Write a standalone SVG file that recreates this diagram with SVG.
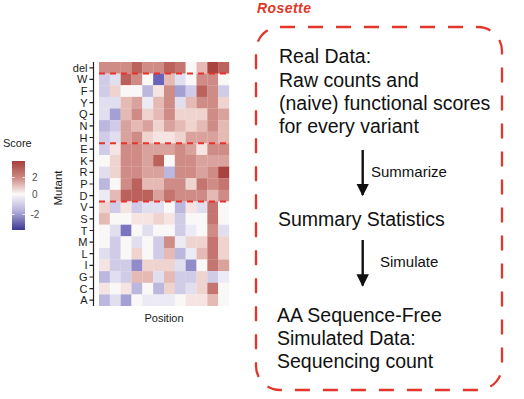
<svg xmlns="http://www.w3.org/2000/svg" width="524" height="399" viewBox="0 0 524 399">
<style>
text{font-family:"Liberation Sans",Arial,Helvetica,sans-serif}
.lab{font-size:11px;fill:#1a1a1a;text-anchor:end}
.box{font-size:19.5px;fill:#111}
.small{font-size:15px;fill:#111}
.r4{fill:#a8433f}.r3{fill:#bb625d}.r25{fill:#c57570}.r2{fill:#cf8c86}.r15{fill:#daa29c}.r1{fill:#e5bab5}.r05{fill:#efd3cf}.r03{fill:#f5e4e2}.w{fill:#faf7f7}
.b03{fill:#ecebf5}.b05{fill:#e1def0}.b1{fill:#d0cce8}.b15{fill:#bcb7df}.b2{fill:#a5a0d4}.b25{fill:#918bca}.b3{fill:#7c74c0}.b4{fill:#6a63b9}
.sep{stroke:#e8332a;stroke-width:2;stroke-dasharray:6 5;fill:none}
</style>
<defs>
<linearGradient id="sg" x1="0" y1="0" x2="0" y2="1">
<stop offset="0" stop-color="#a23f3b"/>
<stop offset="0.25" stop-color="#cf8c86"/>
<stop offset="0.48" stop-color="#fbf8f8"/>
<stop offset="0.72" stop-color="#b7b2dc"/>
<stop offset="1" stop-color="#3d3894"/>
</linearGradient>
<marker id="ah" viewBox="0 0 10 10" refX="9" refY="5" markerWidth="5.2" markerHeight="5.2" orient="auto" markerUnits="strokeWidth">
<path d="M0,0 L10,5 L0,10 z" fill="#111"/>
</marker>
</defs>

<g id="heatmap">
<g transform="translate(0,62)"><rect x="99" width="11" height="11.8" class="r2"/><rect x="109.83" width="11" height="11.8" class="r2"/><rect x="120.67" width="11" height="11.8" class="r2"/><rect x="131.5" width="11" height="11.8" class="r3"/><rect x="142.33" width="11" height="11.8" class="r2"/><rect x="153.17" width="11" height="11.8" class="r2"/><rect x="164" width="11" height="11.8" class="r3"/><rect x="174.83" width="11" height="11.8" class="r25"/><rect x="185.67" width="11" height="11.8" class="w"/><rect x="196.5" width="11" height="11.8" class="r1"/><rect x="207.33" width="11" height="11.8" class="r4"/><rect x="218.17" width="11" height="11.8" class="r3"/></g>
<g transform="translate(0,73.62)"><rect x="99" width="11" height="11.8" class="b1"/><rect x="109.83" width="11" height="11.8" class="b05"/><rect x="120.67" width="11" height="11.8" class="r3"/><rect x="131.5" width="11" height="11.8" class="r2"/><rect x="142.33" width="11" height="11.8" class="w"/><rect x="153.17" width="11" height="11.8" class="b4"/><rect x="164" width="11" height="11.8" class="r1"/><rect x="174.83" width="11" height="11.8" class="b05"/><rect x="185.67" width="11" height="11.8" class="w"/><rect x="196.5" width="11" height="11.8" class="r2"/><rect x="207.33" width="11" height="11.8" class="r2"/><rect x="218.17" width="11" height="11.8" class="w"/></g>
<g transform="translate(0,85.24)"><rect x="99" width="11" height="11.8" class="b1"/><rect x="109.83" width="11" height="11.8" class="r05"/><rect x="120.67" width="11" height="11.8" class="w"/><rect x="131.5" width="11" height="11.8" class="w"/><rect x="142.33" width="11" height="11.8" class="b15"/><rect x="153.17" width="11" height="11.8" class="r03"/><rect x="164" width="11" height="11.8" class="r2"/><rect x="174.83" width="11" height="11.8" class="b2"/><rect x="185.67" width="11" height="11.8" class="b1"/><rect x="196.5" width="11" height="11.8" class="r3"/><rect x="207.33" width="11" height="11.8" class="r2"/><rect x="218.17" width="11" height="11.8" class="b1"/></g>
<g transform="translate(0,96.86)"><rect x="99" width="11" height="11.8" class="b05"/><rect x="109.83" width="11" height="11.8" class="b05"/><rect x="120.67" width="11" height="11.8" class="r1"/><rect x="131.5" width="11" height="11.8" class="r15"/><rect x="142.33" width="11" height="11.8" class="b03"/><rect x="153.17" width="11" height="11.8" class="r1"/><rect x="164" width="11" height="11.8" class="r2"/><rect x="174.83" width="11" height="11.8" class="b05"/><rect x="185.67" width="11" height="11.8" class="r1"/><rect x="196.5" width="11" height="11.8" class="r2"/><rect x="207.33" width="11" height="11.8" class="r2"/><rect x="218.17" width="11" height="11.8" class="r05"/></g>
<g transform="translate(0,108.48)"><rect x="99" width="11" height="11.8" class="b05"/><rect x="109.83" width="11" height="11.8" class="b2"/><rect x="120.67" width="11" height="11.8" class="r1"/><rect x="131.5" width="11" height="11.8" class="r2"/><rect x="142.33" width="11" height="11.8" class="r05"/><rect x="153.17" width="11" height="11.8" class="r1"/><rect x="164" width="11" height="11.8" class="r2"/><rect x="174.83" width="11" height="11.8" class="r05"/><rect x="185.67" width="11" height="11.8" class="r05"/><rect x="196.5" width="11" height="11.8" class="r05"/><rect x="207.33" width="11" height="11.8" class="r2"/><rect x="218.17" width="11" height="11.8" class="r15"/></g>
<g transform="translate(0,120.1)"><rect x="99" width="11" height="11.8" class="b15"/><rect x="109.83" width="11" height="11.8" class="b1"/><rect x="120.67" width="11" height="11.8" class="r15"/><rect x="131.5" width="11" height="11.8" class="r1"/><rect x="142.33" width="11" height="11.8" class="r15"/><rect x="153.17" width="11" height="11.8" class="r05"/><rect x="164" width="11" height="11.8" class="r15"/><rect x="174.83" width="11" height="11.8" class="r1"/><rect x="185.67" width="11" height="11.8" class="r05"/><rect x="196.5" width="11" height="11.8" class="r1"/><rect x="207.33" width="11" height="11.8" class="r2"/><rect x="218.17" width="11" height="11.8" class="r1"/></g>
<g transform="translate(0,131.72)"><rect x="99" width="11" height="11.8" class="b1"/><rect x="109.83" width="11" height="11.8" class="b05"/><rect x="120.67" width="11" height="11.8" class="r15"/><rect x="131.5" width="11" height="11.8" class="r2"/><rect x="142.33" width="11" height="11.8" class="r05"/><rect x="153.17" width="11" height="11.8" class="r03"/><rect x="164" width="11" height="11.8" class="r03"/><rect x="174.83" width="11" height="11.8" class="r05"/><rect x="185.67" width="11" height="11.8" class="r15"/><rect x="196.5" width="11" height="11.8" class="r15"/><rect x="207.33" width="11" height="11.8" class="r15"/><rect x="218.17" width="11" height="11.8" class="r1"/></g>
<g transform="translate(0,143.34)"><rect x="99" width="11" height="11.8" class="b1"/><rect x="109.83" width="11" height="11.8" class="r03"/><rect x="120.67" width="11" height="11.8" class="r2"/><rect x="131.5" width="11" height="11.8" class="r2"/><rect x="142.33" width="11" height="11.8" class="r15"/><rect x="153.17" width="11" height="11.8" class="r15"/><rect x="164" width="11" height="11.8" class="r15"/><rect x="174.83" width="11" height="11.8" class="r2"/><rect x="185.67" width="11" height="11.8" class="r15"/><rect x="196.5" width="11" height="11.8" class="r03"/><rect x="207.33" width="11" height="11.8" class="r2"/><rect x="218.17" width="11" height="11.8" class="r2"/></g>
<g transform="translate(0,154.96)"><rect x="99" width="11" height="11.8" class="w"/><rect x="109.83" width="11" height="11.8" class="r05"/><rect x="120.67" width="11" height="11.8" class="r2"/><rect x="131.5" width="11" height="11.8" class="r2"/><rect x="142.33" width="11" height="11.8" class="r15"/><rect x="153.17" width="11" height="11.8" class="r3"/><rect x="164" width="11" height="11.8" class="w"/><rect x="174.83" width="11" height="11.8" class="r2"/><rect x="185.67" width="11" height="11.8" class="r2"/><rect x="196.5" width="11" height="11.8" class="r15"/><rect x="207.33" width="11" height="11.8" class="r15"/><rect x="218.17" width="11" height="11.8" class="r15"/></g>
<g transform="translate(0,166.58)"><rect x="99" width="11" height="11.8" class="b05"/><rect x="109.83" width="11" height="11.8" class="r05"/><rect x="120.67" width="11" height="11.8" class="r2"/><rect x="131.5" width="11" height="11.8" class="r2"/><rect x="142.33" width="11" height="11.8" class="r15"/><rect x="153.17" width="11" height="11.8" class="r15"/><rect x="164" width="11" height="11.8" class="b15"/><rect x="174.83" width="11" height="11.8" class="r2"/><rect x="185.67" width="11" height="11.8" class="r2"/><rect x="196.5" width="11" height="11.8" class="r15"/><rect x="207.33" width="11" height="11.8" class="r2"/><rect x="218.17" width="11" height="11.8" class="r4"/></g>
<g transform="translate(0,178.2)"><rect x="99" width="11" height="11.8" class="b15"/><rect x="109.83" width="11" height="11.8" class="w"/><rect x="120.67" width="11" height="11.8" class="r2"/><rect x="131.5" width="11" height="11.8" class="r3"/><rect x="142.33" width="11" height="11.8" class="r1"/><rect x="153.17" width="11" height="11.8" class="r1"/><rect x="164" width="11" height="11.8" class="r2"/><rect x="174.83" width="11" height="11.8" class="r2"/><rect x="185.67" width="11" height="11.8" class="r05"/><rect x="196.5" width="11" height="11.8" class="r25"/><rect x="207.33" width="11" height="11.8" class="r2"/><rect x="218.17" width="11" height="11.8" class="r25"/></g>
<g transform="translate(0,189.82)"><rect x="99" width="11" height="11.8" class="b03"/><rect x="109.83" width="11" height="11.8" class="r1"/><rect x="120.67" width="11" height="11.8" class="r3"/><rect x="131.5" width="11" height="11.8" class="r3"/><rect x="142.33" width="11" height="11.8" class="r3"/><rect x="153.17" width="11" height="11.8" class="r15"/><rect x="164" width="11" height="11.8" class="r25"/><rect x="174.83" width="11" height="11.8" class="r2"/><rect x="185.67" width="11" height="11.8" class="r2"/><rect x="196.5" width="11" height="11.8" class="r2"/><rect x="207.33" width="11" height="11.8" class="r1"/><rect x="218.17" width="11" height="11.8" class="r2"/></g>
<g transform="translate(0,201.44)"><rect x="99" width="11" height="11.8" class="r05"/><rect x="109.83" width="11" height="11.8" class="b1"/><rect x="120.67" width="11" height="11.8" class="r03"/><rect x="131.5" width="11" height="11.8" class="b1"/><rect x="142.33" width="11" height="11.8" class="b05"/><rect x="153.17" width="11" height="11.8" class="b05"/><rect x="164" width="11" height="11.8" class="w"/><rect x="174.83" width="11" height="11.8" class="b15"/><rect x="185.67" width="11" height="11.8" class="r03"/><rect x="196.5" width="11" height="11.8" class="b05"/><rect x="207.33" width="11" height="11.8" class="r25"/><rect x="218.17" width="11" height="11.8" class="w"/></g>
<g transform="translate(0,213.06)"><rect x="99" width="11" height="11.8" class="r1"/><rect x="109.83" width="11" height="11.8" class="w"/><rect x="120.67" width="11" height="11.8" class="w"/><rect x="131.5" width="11" height="11.8" class="r03"/><rect x="142.33" width="11" height="11.8" class="r03"/><rect x="153.17" width="11" height="11.8" class="r05"/><rect x="164" width="11" height="11.8" class="r03"/><rect x="174.83" width="11" height="11.8" class="b1"/><rect x="185.67" width="11" height="11.8" class="w"/><rect x="196.5" width="11" height="11.8" class="w"/><rect x="207.33" width="11" height="11.8" class="r25"/><rect x="218.17" width="11" height="11.8" class="w"/></g>
<g transform="translate(0,224.68)"><rect x="99" width="11" height="11.8" class="w"/><rect x="109.83" width="11" height="11.8" class="b05"/><rect x="120.67" width="11" height="11.8" class="b3"/><rect x="131.5" width="11" height="11.8" class="w"/><rect x="142.33" width="11" height="11.8" class="b05"/><rect x="153.17" width="11" height="11.8" class="w"/><rect x="164" width="11" height="11.8" class="w"/><rect x="174.83" width="11" height="11.8" class="b1"/><rect x="185.67" width="11" height="11.8" class="b03"/><rect x="196.5" width="11" height="11.8" class="w"/><rect x="207.33" width="11" height="11.8" class="r2"/><rect x="218.17" width="11" height="11.8" class="b05"/></g>
<g transform="translate(0,236.3)"><rect x="99" width="11" height="11.8" class="w"/><rect x="109.83" width="11" height="11.8" class="b1"/><rect x="120.67" width="11" height="11.8" class="w"/><rect x="131.5" width="11" height="11.8" class="b05"/><rect x="142.33" width="11" height="11.8" class="w"/><rect x="153.17" width="11" height="11.8" class="b1"/><rect x="164" width="11" height="11.8" class="r2"/><rect x="174.83" width="11" height="11.8" class="b03"/><rect x="185.67" width="11" height="11.8" class="r05"/><rect x="196.5" width="11" height="11.8" class="r05"/><rect x="207.33" width="11" height="11.8" class="r25"/><rect x="218.17" width="11" height="11.8" class="r05"/></g>
<g transform="translate(0,247.92)"><rect x="99" width="11" height="11.8" class="b05"/><rect x="109.83" width="11" height="11.8" class="b1"/><rect x="120.67" width="11" height="11.8" class="w"/><rect x="131.5" width="11" height="11.8" class="r05"/><rect x="142.33" width="11" height="11.8" class="w"/><rect x="153.17" width="11" height="11.8" class="b1"/><rect x="164" width="11" height="11.8" class="r1"/><rect x="174.83" width="11" height="11.8" class="b15"/><rect x="185.67" width="11" height="11.8" class="b03"/><rect x="196.5" width="11" height="11.8" class="r1"/><rect x="207.33" width="11" height="11.8" class="r25"/><rect x="218.17" width="11" height="11.8" class="r05"/></g>
<g transform="translate(0,259.54)"><rect x="99" width="11" height="11.8" class="r03"/><rect x="109.83" width="11" height="11.8" class="b1"/><rect x="120.67" width="11" height="11.8" class="b1"/><rect x="131.5" width="11" height="11.8" class="b25"/><rect x="142.33" width="11" height="11.8" class="r05"/><rect x="153.17" width="11" height="11.8" class="r05"/><rect x="164" width="11" height="11.8" class="r05"/><rect x="174.83" width="11" height="11.8" class="b05"/><rect x="185.67" width="11" height="11.8" class="b25"/><rect x="196.5" width="11" height="11.8" class="w"/><rect x="207.33" width="11" height="11.8" class="r25"/><rect x="218.17" width="11" height="11.8" class="r15"/></g>
<g transform="translate(0,271.16)"><rect x="99" width="11" height="11.8" class="b15"/><rect x="109.83" width="11" height="11.8" class="b05"/><rect x="120.67" width="11" height="11.8" class="b1"/><rect x="131.5" width="11" height="11.8" class="r1"/><rect x="142.33" width="11" height="11.8" class="r1"/><rect x="153.17" width="11" height="11.8" class="b05"/><rect x="164" width="11" height="11.8" class="r1"/><rect x="174.83" width="11" height="11.8" class="b1"/><rect x="185.67" width="11" height="11.8" class="b1"/><rect x="196.5" width="11" height="11.8" class="r05"/><rect x="207.33" width="11" height="11.8" class="b1"/><rect x="218.17" width="11" height="11.8" class="b03"/></g>
<g transform="translate(0,282.78)"><rect x="99" width="11" height="11.8" class="r03"/><rect x="109.83" width="11" height="11.8" class="w"/><rect x="120.67" width="11" height="11.8" class="r03"/><rect x="131.5" width="11" height="11.8" class="b15"/><rect x="142.33" width="11" height="11.8" class="w"/><rect x="153.17" width="11" height="11.8" class="b15"/><rect x="164" width="11" height="11.8" class="r05"/><rect x="174.83" width="11" height="11.8" class="b1"/><rect x="185.67" width="11" height="11.8" class="b05"/><rect x="196.5" width="11" height="11.8" class="r05"/><rect x="207.33" width="11" height="11.8" class="r25"/><rect x="218.17" width="11" height="11.8" class="w"/></g>
<g transform="translate(0,294.4)"><rect x="99" width="11" height="11.6" class="b15"/><rect x="109.83" width="11" height="11.6" class="b05"/><rect x="120.67" width="11" height="11.6" class="b2"/><rect x="131.5" width="11" height="11.6" class="w"/><rect x="142.33" width="11" height="11.6" class="b03"/><rect x="153.17" width="11" height="11.6" class="b03"/><rect x="164" width="11" height="11.6" class="b03"/><rect x="174.83" width="11" height="11.6" class="w"/><rect x="185.67" width="11" height="11.6" class="r03"/><rect x="196.5" width="11" height="11.6" class="r03"/><rect x="207.33" width="11" height="11.6" class="r1"/><rect x="218.17" width="11" height="11.6" class="w"/></g>
<line class="sep" x1="99" y1="73.6" x2="229" y2="73.6"/>
<line class="sep" x1="99" y1="143.3" x2="229" y2="143.3"/>
<line class="sep" x1="99" y1="201.4" x2="229" y2="201.4"/>
</g>

<g id="y-axis">
<line x1="93.5" y1="62" x2="93.5" y2="306" stroke="#222" stroke-width="1.2"/>
<path d="M89.5,67.8H93.5M89.5,79.4H93.5M89.5,91H93.5M89.5,102.7H93.5M89.5,114.3H93.5M89.5,125.9H93.5M89.5,137.5H93.5M89.5,149.2H93.5M89.5,160.8H93.5M89.5,172.4H93.5M89.5,184H93.5M89.5,195.6H93.5M89.5,207.3H93.5M89.5,218.9H93.5M89.5,230.5H93.5M89.5,242.1H93.5M89.5,253.7H93.5M89.5,265.4H93.5M89.5,277H93.5M89.5,288.6H93.5M89.5,300.2H93.5" stroke="#222" stroke-width="1.2"/>
<text class="lab" x="87.5" y="71.8">del</text>
<text class="lab" x="87.5" y="83.4">W</text>
<text class="lab" x="87.5" y="95">F</text>
<text class="lab" x="87.5" y="106.7">Y</text>
<text class="lab" x="87.5" y="118.3">Q</text>
<text class="lab" x="87.5" y="129.9">N</text>
<text class="lab" x="87.5" y="141.5">H</text>
<text class="lab" x="87.5" y="153.2">E</text>
<text class="lab" x="87.5" y="164.8">K</text>
<text class="lab" x="87.5" y="176.4">R</text>
<text class="lab" x="87.5" y="188">P</text>
<text class="lab" x="87.5" y="199.6">D</text>
<text class="lab" x="87.5" y="211.3">V</text>
<text class="lab" x="87.5" y="222.9">S</text>
<text class="lab" x="87.5" y="234.5">T</text>
<text class="lab" x="87.5" y="246.1">M</text>
<text class="lab" x="87.5" y="257.7">L</text>
<text class="lab" x="87.5" y="269.4">I</text>
<text class="lab" x="87.5" y="281">G</text>
<text class="lab" x="87.5" y="292.6">C</text>
<text class="lab" x="87.5" y="304.2">A</text>
<text x="61.5" y="188" transform="rotate(-90 61.5 188)" font-size="11.5" fill="#1a1a1a" text-anchor="middle">Mutant</text>
<text x="164" y="322" font-size="11" fill="#1a1a1a" text-anchor="middle">Position</text>
</g>

<g id="legend">
<text x="3" y="147" font-size="11" fill="#1a1a1a">Score</text>
<rect x="12" y="161" width="13" height="69" fill="url(#sg)"/>
<path d="M12,177.5H14.5M22.5,177.5H25M12,194H14.5M22.5,194H25M12,214.5H14.5M22.5,214.5H25" stroke="#fff" stroke-width="0.8"/>
<text x="32" y="181" font-size="10" fill="#4d4d4d">2</text>
<text x="32" y="197.5" font-size="10" fill="#4d4d4d">0</text>
<text x="30.5" y="218" font-size="10" fill="#4d4d4d">-2</text>
</g>

<g id="rosette">
<text x="257" y="12.5" font-size="14" font-weight="bold" font-style="italic" fill="#e2352b" textLength="54">Rosette</text>
<rect x="256" y="27" width="246" height="363" rx="24" ry="24" fill="none" stroke="#e2352b" stroke-width="2.3" stroke-dasharray="15 13"/>
</g>

<g id="real-data">
<text class="box" x="279" y="63">Real Data:</text>
<text class="box" x="279" y="86.5">Raw counts and</text>
<text class="box" x="279" y="110">(naive) functional scores</text>
<text class="box" x="279" y="133">for every variant</text>
</g>

<g id="summary">
<text class="box" x="278" y="226">Summary Statistics</text>
</g>

<g id="simulated">
<text class="box" x="277" y="322">AA Sequence-Free</text>
<text class="box" x="277" y="345">Simulated Data:</text>
<text class="box" x="277" y="368">Sequencing count</text>
</g>

<g id="connectors">
<line x1="362.7" y1="150" x2="362.7" y2="195" stroke="#111" stroke-width="2.4" marker-end="url(#ah)"/>
<text class="small" x="371" y="177">Summarize</text>
<line x1="362.7" y1="240" x2="362.7" y2="285.5" stroke="#111" stroke-width="2.4" marker-end="url(#ah)"/>
<text class="small" x="380" y="267">Simulate</text>
</g>
</svg>
